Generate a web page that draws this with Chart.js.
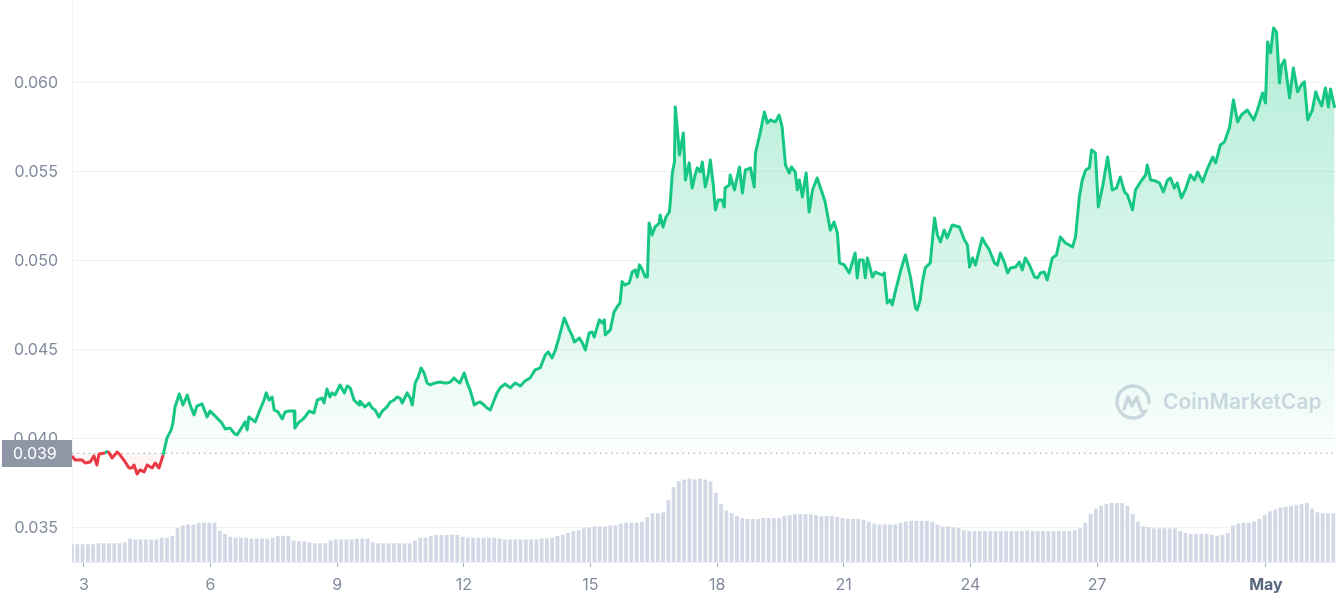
<!DOCTYPE html>
<html>
<head>
<meta charset="utf-8">
<title>Price chart</title>
<script src="https://cdn.jsdelivr.net/npm/chart.js@4.4.1/dist/chart.umd.min.js"></script>
<style>
  html, body { margin: 0; padding: 0; background: #ffffff; }
  #wrap { width: 1336px; height: 600px; position: relative; }
</style>
</head>
<body>
<div id="wrap"><canvas id="priceChart" width="1336" height="600"></canvas></div>
<script>
// ---- data (days are April day numbers, 31 = May 1) ----
const tickDays = [3, 6, 9, 12, 15, 18, 21, 24, 27, 31];
const tickLabels = ['3', '6', '9', '12', '15', '18', '21', '24', '27', 'May'];
const priceTicks = [0.035, 0.040, 0.045, 0.050, 0.055, 0.060];
const openPrice = 0.0392; // reference price, shown as 0.039

const priceDays = [
  2.72, 2.79, 2.96, 3.03, 3.15, 3.24, 3.31, 3.36, 3.50, 3.57, 3.67, 3.79, 3.86, 3.98,
  4.07, 4.14, 4.19, 4.26, 4.33, 4.43, 4.50, 4.62, 4.69, 4.78, 4.88, 4.97,
  5.07, 5.11, 5.16, 5.26, 5.35, 5.45, 5.52, 5.61, 5.68, 5.80, 5.92, 5.99,
  6.13, 6.27, 6.35, 6.46, 6.58, 6.63, 6.75, 6.82, 6.87, 6.91,
  7.06, 7.17, 7.27, 7.32, 7.39, 7.46, 7.51, 7.60, 7.70, 7.77, 7.86, 7.98,
  8.00, 8.10, 8.17, 8.24, 8.34, 8.45, 8.53, 8.64, 8.69, 8.76, 8.83, 8.88, 8.95,
  9.07, 9.17, 9.24, 9.31, 9.40, 9.52, 9.54, 9.66, 9.76, 9.83, 9.90, 9.99,
  10.07, 10.18, 10.26, 10.35, 10.42, 10.49, 10.54, 10.66, 10.73, 10.78, 10.85, 10.92, 10.99,
  11.06, 11.13, 11.20, 11.32, 11.44, 11.54, 11.61, 11.68, 11.77, 11.84, 11.91,
  12.01, 12.08, 12.15, 12.25, 12.32, 12.39, 12.48, 12.55, 12.63, 12.72, 12.79, 12.86, 12.98,
  13.10, 13.22, 13.34, 13.45, 13.57, 13.69, 13.81, 13.93,
  14.00, 14.09, 14.17, 14.26, 14.38, 14.50, 14.57, 14.62, 14.74, 14.81, 14.88, 14.97,
  15.04, 15.09, 15.21, 15.28, 15.33, 15.35, 15.47, 15.56, 15.63, 15.70, 15.75, 15.82, 15.92, 15.99,
  16.06, 16.11, 16.16, 16.23, 16.30, 16.35, 16.39, 16.46, 16.53, 16.63, 16.65, 16.72, 16.79, 16.87, 16.89, 16.94, 16.99,
  17.01, 17.06, 17.11, 17.20, 17.25, 17.34, 17.41, 17.48, 17.53, 17.60, 17.65, 17.72, 17.79, 17.84, 17.91, 17.96,
  18.03, 18.12, 18.17, 18.19, 18.29, 18.31, 18.41, 18.53, 18.60, 18.67, 18.74, 18.79, 18.88, 18.91,
  19.02, 19.12, 19.19, 19.26, 19.38, 19.47, 19.54, 19.62, 19.71, 19.76, 19.85, 19.90, 19.95,
  20.02, 20.11, 20.18, 20.26, 20.37, 20.49, 20.56, 20.68, 20.77, 20.85, 20.90,
  21.01, 21.13, 21.27, 21.32, 21.37, 21.46, 21.51, 21.56, 21.68, 21.75, 21.92, 21.96,
  22.03, 22.10, 22.15, 22.22, 22.34, 22.46, 22.53, 22.58, 22.70, 22.74, 22.81, 22.86, 22.93,
  23.05, 23.15, 23.22, 23.29, 23.38, 23.45, 23.57, 23.74, 23.86, 23.93, 23.98,
  24.05, 24.12, 24.21, 24.28, 24.37, 24.45, 24.57, 24.64, 24.71, 24.81, 24.88, 24.95,
  25.07, 25.16, 25.23, 25.30, 25.40, 25.52, 25.59, 25.66, 25.75, 25.82, 25.94,
  26.04, 26.13, 26.25, 26.42, 26.49, 26.58, 26.65, 26.73, 26.82, 26.87, 26.96,
  27.03, 27.13, 27.25, 27.36, 27.46, 27.55, 27.65, 27.72, 27.84, 27.91,
  28.03, 28.15, 28.19, 28.27, 28.39, 28.48, 28.57, 28.67, 28.74, 28.83, 28.90,
  29.00, 29.09, 29.21, 29.31, 29.38, 29.50, 29.62, 29.74, 29.81, 29.92,
  30.02, 30.14, 30.23, 30.33, 30.42, 30.56, 30.71, 30.80, 30.92, 30.99,
  31.04, 31.11, 31.18, 31.25, 31.32, 31.37, 31.44, 31.56, 31.65, 31.75, 31.84, 31.91, 31.99,
  32.10, 32.18, 32.25, 32.32, 32.41, 32.48, 32.53, 32.63
];

const priceValues = [
  0.03905, 0.03882, 0.03882, 0.03865, 0.03871, 0.03905, 0.03854, 0.03916, 0.03921, 0.03932, 0.03893, 0.03927, 0.03910, 0.03871,
  0.03837, 0.03837, 0.03854, 0.03803, 0.03826, 0.03815, 0.03854, 0.03837, 0.03865, 0.03837, 0.03910, 0.04006,
  0.04051, 0.04090, 0.04180, 0.04253, 0.04191, 0.04247, 0.04191, 0.04135, 0.04185, 0.04197, 0.04124, 0.04157,
  0.04124, 0.04090, 0.04056, 0.04062, 0.04028, 0.04023, 0.04068, 0.04096, 0.04051, 0.04124,
  0.04096, 0.04163, 0.04219, 0.04259, 0.04219, 0.04236, 0.04163, 0.04152, 0.04113, 0.04152, 0.04157, 0.04157,
  0.04062, 0.04096, 0.04107, 0.04124, 0.04157, 0.04146, 0.04219, 0.04230, 0.04202, 0.04281, 0.04236, 0.04259, 0.04247,
  0.04303, 0.04259, 0.04298, 0.04287, 0.04219, 0.04191, 0.04214, 0.04180, 0.04202, 0.04174, 0.04163, 0.04124,
  0.04157, 0.04180, 0.04208, 0.04219, 0.04236, 0.04230, 0.04202, 0.04259, 0.04230, 0.04191, 0.04315, 0.04348, 0.04399,
  0.04371, 0.04315, 0.04304, 0.04315, 0.04320, 0.04315, 0.04315, 0.04320, 0.04343, 0.04326, 0.04315,
  0.04371, 0.04315, 0.04275, 0.04191, 0.04202, 0.04208, 0.04191, 0.04174, 0.04163, 0.04219, 0.04259, 0.04287, 0.04309,
  0.04287, 0.04315, 0.04298, 0.04326, 0.04343, 0.04388, 0.04399, 0.04472,
  0.04489, 0.04455, 0.04500, 0.04573, 0.04680, 0.04613, 0.04579, 0.04545, 0.04567, 0.04539, 0.04500, 0.04596,
  0.04601, 0.04573, 0.04669, 0.04652, 0.04669, 0.04584, 0.04613, 0.04714, 0.04742, 0.04764, 0.04884, 0.04865, 0.04877, 0.04938,
  0.04950, 0.04910, 0.04978, 0.04950, 0.04910, 0.04910, 0.05213, 0.05146, 0.05191, 0.05213, 0.05258, 0.05191, 0.05247, 0.05275, 0.05326, 0.05494, 0.05556,
  0.05865, 0.05736, 0.05595, 0.05719, 0.05455, 0.05551, 0.05410, 0.05483, 0.05523, 0.05500, 0.05556, 0.05416, 0.05483, 0.05567, 0.05427, 0.05287,
  0.05343, 0.05343, 0.05303, 0.05410, 0.05427, 0.05483, 0.05399, 0.05528, 0.05382, 0.05511, 0.05517, 0.05523, 0.05416, 0.05607,
  0.05719, 0.05837, 0.05775, 0.05792, 0.05781, 0.05820, 0.05753, 0.05539, 0.05494, 0.05528, 0.05500, 0.05399, 0.05455,
  0.05360, 0.05494, 0.05275, 0.05399, 0.05466, 0.05382, 0.05331, 0.05174, 0.05219, 0.05157, 0.04989,
  0.04978, 0.04933, 0.05045, 0.04905, 0.05006, 0.05006, 0.04905, 0.05017, 0.04910, 0.04938, 0.04921, 0.04933,
  0.04764, 0.04781, 0.04753, 0.04826, 0.04938, 0.05034, 0.04961, 0.04910, 0.04736, 0.04725, 0.04781, 0.04876, 0.04961,
  0.04989, 0.05241, 0.05146, 0.05107, 0.05174, 0.05129, 0.05202, 0.05191, 0.05118, 0.05090, 0.04966,
  0.05017, 0.04977, 0.05062, 0.05129, 0.05090, 0.05062, 0.04989, 0.04977, 0.05045, 0.04989, 0.04933, 0.04961,
  0.04966, 0.04994, 0.04950, 0.05017, 0.04977, 0.04910, 0.04905, 0.04933, 0.04938, 0.04893, 0.05017,
  0.05034, 0.05135, 0.05101, 0.05079, 0.05135, 0.05359, 0.05455, 0.05511, 0.05523, 0.05624, 0.05607,
  0.05303, 0.05416, 0.05584, 0.05399, 0.05410, 0.05472, 0.05388, 0.05371, 0.05287, 0.05399,
  0.05444, 0.05483, 0.05539, 0.05455, 0.05449, 0.05438, 0.05388, 0.05455, 0.05466, 0.05410, 0.05438,
  0.05354, 0.05399, 0.05483, 0.05455, 0.05500, 0.05444, 0.05522, 0.05584, 0.05551, 0.05652,
  0.05669, 0.05753, 0.05905, 0.05781, 0.05820, 0.05848, 0.05792, 0.05848, 0.05944, 0.05888,
  0.06230, 0.06169, 0.06309, 0.06287, 0.06000, 0.06101, 0.06129, 0.05916, 0.06084, 0.05950, 0.05989, 0.06006, 0.05792,
  0.05848, 0.05950, 0.05905, 0.05871, 0.05972, 0.05865, 0.05966, 0.05860
];

// 24h volume, millions USD, one value every 3 hours from the first day shown
const volumeStartDay = 2.72;
const volumeStepDays = 0.125;
const volumeValues = [
  19, 19, 19, 19, 19, 20, 20, 20, 20, 20, 21, 25, 24, 24, 24, 24, 24, 26, 26, 28,
  36, 39, 40, 40, 42, 42, 42, 42, 33, 30, 27, 26, 26, 26, 25, 25, 25, 25, 26, 28,
  28, 28, 23, 22, 22, 21, 20, 20, 20, 23, 24, 24, 24, 24, 25, 25, 25, 21, 20, 20,
  20, 20, 20, 20, 20, 23, 26, 26, 28, 29, 29, 29, 29, 29, 27, 26, 26, 26, 26, 26,
  26, 25, 24, 24, 24, 24, 24, 24, 24, 25, 25, 26, 28, 29, 31, 33, 34, 36, 37, 38,
  38, 38, 39, 39, 41, 42, 42, 42, 43, 48, 52, 52, 53, 66, 80, 86, 88, 89, 88, 89,
  88, 86, 74, 62, 55, 52, 49, 47, 46, 46, 46, 47, 47, 47, 47, 49, 50, 51, 51, 51,
  51, 50, 49, 49, 49, 48, 47, 46, 46, 46, 45, 43, 41, 40, 40, 40, 40, 42, 43, 44,
  44, 44, 44, 43, 40, 38, 38, 37, 36, 34, 33, 33, 33, 33, 33, 33, 33, 33, 33, 33,
  33, 34, 33, 33, 33, 33, 33, 33, 33, 33, 34, 36, 42, 51, 57, 60, 62, 63, 63, 63,
  60, 51, 43, 38, 37, 36, 36, 36, 36, 36, 33, 31, 30, 30, 30, 30, 29, 28, 29, 31,
  39, 41, 42, 42, 43, 46, 50, 54, 56, 58, 59, 60, 61, 62, 63, 57, 53, 52, 52, 52
];

// ---- colours ----
const GREEN = '#16c784';
const RED = '#ea3943';
const LABEL_GREY = '#808a9d';
const GRID = '#eff2f5';

const pricePoints = priceDays.map((d, i) => ({ x: d, y: priceValues[i] }));
const volumePoints = volumeValues.map((v, i) => ({ x: volumeStartDay + i * volumeStepDays, y: v }));

// dotted open-price line, its grey tag on the axis, and the watermark
const overlayPlugin = {
    id: 'overlay',
    beforeDatasetsDraw(chart) {
        const { ctx, chartArea } = chart;
        // CoinMarketCap watermark
        const cx = 1133, cy = 402, r = 16;
        ctx.save();
        ctx.strokeStyle = '#d3d8e3';
        ctx.fillStyle = '#d3d8e3';
        ctx.lineWidth = 3.4;
        ctx.lineCap = 'round';
        ctx.lineJoin = 'round';
        ctx.beginPath();
        ctx.arc(cx, cy, r, 0.28 * Math.PI, 2.0 * Math.PI + 0.02 * Math.PI);
        ctx.stroke();
        ctx.beginPath();
        ctx.moveTo(cx - 9, cy + 7);
        ctx.lineTo(cx - 5, cy - 5);
        ctx.lineTo(cx - 1, cy + 4);
        ctx.lineTo(cx + 4, cy - 5);
        ctx.lineTo(cx + 7, cy + 6);
        ctx.quadraticCurveTo(cx + 10, cy + 12, cx + 13, cy + 9);
        ctx.stroke();
        ctx.font = '600 21px Inter, sans-serif';
        ctx.textBaseline = 'middle';
        ctx.textAlign = 'left';
        ctx.fillText('CoinMarketCap', 1163, 403);
        ctx.restore();

        // dotted reference line
        const y = chart.scales.y.getPixelForValue(openPrice);
        ctx.save();
        ctx.strokeStyle = '#9aa2b1';
        ctx.lineWidth = 1.2;
        ctx.setLineDash([1.5, 4]);
        ctx.beginPath();
        ctx.moveTo(chartArea.left, y);
        ctx.lineTo(chartArea.right, y);
        ctx.stroke();
        ctx.restore();
    },
    afterDraw(chart) {
        const { ctx, chartArea } = chart;
        const y = chart.scales.y.getPixelForValue(openPrice);
        ctx.save();
        ctx.fillStyle = '#8f97a7';
        ctx.fillRect(2, Math.round(y) - 13, chartArea.left - 2, 27);
        ctx.fillStyle = '#ffffff';
        ctx.font = '16px Inter, sans-serif';
        ctx.textBaseline = 'middle';
        ctx.textAlign = 'left';
        ctx.fillText(openPrice.toFixed(3), 13, Math.round(y) + 1);
        ctx.restore();
    }
};

const ctx = document.getElementById('priceChart');

new Chart(ctx, {
    data: {
        datasets: [
            {
                type: 'line',
                label: 'Price',
                data: pricePoints,
                yAxisID: 'y',
                order: 1,
                borderColor: GREEN,
                borderWidth: 3,
                borderJoinStyle: 'round',
                pointRadius: 0,
                tension: 0,
                segment: {
                    borderColor: c => ((c.p0.parsed.y + c.p1.parsed.y) / 2 < openPrice ? RED : GREEN)
                },
                backgroundColor: (context) => {
                    const { ctx: c2, chartArea } = context.chart;
                    if (!chartArea) return 'rgba(22,199,132,0.15)';
                    const g = c2.createLinearGradient(0, chartArea.top, 0, chartArea.bottom);
                    g.addColorStop(0, 'rgba(22,199,132,0.34)');
                    g.addColorStop(0.55, 'rgba(22,199,132,0.14)');
                    g.addColorStop(0.8, 'rgba(22,199,132,0.02)');
                    g.addColorStop(1, 'rgba(22,199,132,0)');
                    return g;
                },
                fill: { value: openPrice, below: 'rgba(234,57,67,0.05)' }
            },
            {
                type: 'bar',
                label: 'Volume',
                data: volumePoints,
                yAxisID: 'yVol',
                order: 2,
                backgroundColor: '#d2d8e6',
                barPercentage: 0.72,
                categoryPercentage: 1
            }
        ]
    },
    options: {
        responsive: false,
        animation: false,
        events: [],
        layout: { padding: 0 },
        plugins: {
            legend: { display: false },
            tooltip: { enabled: false }
        },
        scales: {
            x: {
                type: 'linear',
                offset: false,
                min: 2.72,
                max: 32.66,
                afterBuildTicks: scale => { scale.ticks = tickDays.map(v => ({ value: v })); },
                afterFit: scale => { scale.height = 38; scale.paddingLeft = 0; scale.paddingRight = 0; },
                grid: { offset: false, drawOnChartArea: false, drawTicks: true, tickLength: 5, tickColor: '#a3abbd' },
                border: { display: true, color: GRID },
                ticks: {
                    padding: 9,
                    maxRotation: 0,
                    autoSkip: false,
                    callback: v => tickLabels[tickDays.indexOf(v)],
                    color: c => (c.tick && c.tick.value === 31 ? '#58667e' : LABEL_GREY),
                    font: c => (c.tick && c.tick.value === 31
                        ? { family: 'Inter', size: 16, weight: 'bold' }
                        : { family: 'Inter', size: 16, weight: 'normal' })
                }
            },
            y: {
                position: 'left',
                min: 0.03309,
                max: 0.06466,
                afterBuildTicks: scale => { scale.ticks = priceTicks.map(v => ({ value: v })); },
                afterFit: scale => { scale.width = 72; scale.paddingTop = 0; scale.paddingBottom = 0; },
                grid: { color: GRID, drawTicks: false },
                border: { display: true, color: GRID },
                ticks: {
                    padding: 14,
                    color: LABEL_GREY,
                    font: { family: 'Inter', size: 16 },
                    callback: v => v.toFixed(3)
                }
            },
            yVol: {
                display: false,
                min: 0,
                max: 600
            }
        }
    },
    plugins: [overlayPlugin]
});
</script>
</body>
</html>
